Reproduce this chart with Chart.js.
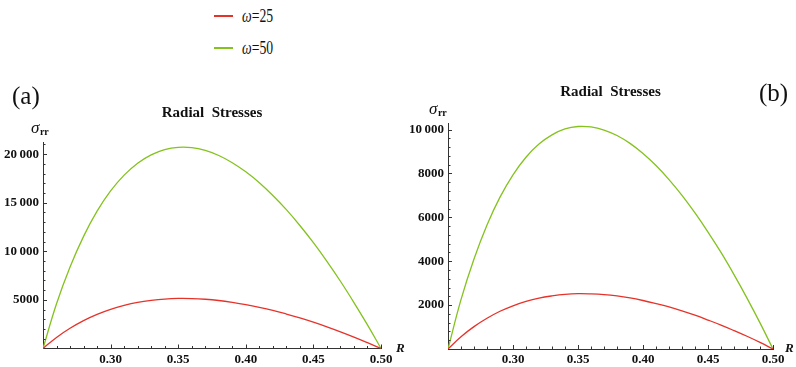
<!DOCTYPE html>
<html>
<head>
<meta charset="utf-8">
<script src="https://cdn.jsdelivr.net/npm/chart.js@4.4.0/dist/chart.umd.min.js"></script>
<style>
  html, body { margin: 0; padding: 0; background: #fff; }
  body { width: 796px; height: 367px; position: relative; overflow: hidden; font-family: "Liberation Serif", serif; }
  canvas { position: absolute; top: 0; }
  #chartA { left: 0; }
  #chartB { left: 400px; }
  .leg { position: absolute; left: 214px; height: 22px; width: 90px; }
  .leg .swatch { position: absolute; left: 0; top: 10px; width: 19px; height: 2px; }
  .leg .txt { position: absolute; left: 28px; top: 0; font-family: "Liberation Serif", serif; font-size: 19px; line-height: 22px; color: #111;
              transform: scaleX(0.72); transform-origin: left center; white-space: nowrap; }
</style>
</head>
<body>
<div class="leg" style="top:5px"><span class="swatch" style="background:#e6332a"></span><span class="txt"><i>ω</i>=25</span></div>
<div class="leg" style="top:37px"><span class="swatch" style="background:#84c21e"></span><span class="txt"><i>ω</i>=50</span></div>
<canvas id="chartA" width="412" height="367"></canvas>
<canvas id="chartB" width="396" height="367"></canvas>
<script>
// radius R (0.25 .. 0.50)
const radius = [0.25, 0.26, 0.27, 0.28, 0.29, 0.30, 0.31, 0.32, 0.33, 0.34, 0.35, 0.36, 0.37,
                0.38, 0.39, 0.40, 0.41, 0.42, 0.43, 0.44, 0.45, 0.46, 0.47, 0.48, 0.49, 0.50];

// (a) radial stress
const stressA25 = [0, 1140, 2080, 2870, 3510, 4030, 4430, 4740, 4950, 5090, 5150, 5140, 5070,
                   4940, 4750, 4520, 4240, 3920, 3550, 3150, 2710, 2230, 1720, 1180, 600, 0];
const stressA50 = [0, 4600, 8380, 11540, 14130, 16210, 17840, 19070, 19930, 20470, 20700, 20670, 20380,
                   19860, 19120, 18180, 17060, 15750, 14290, 12660, 10890, 8970, 6920, 4730, 2430, 0];

// (b) radial stress
const stressB25 = [0, 560, 1020, 1400, 1720, 1970, 2170, 2320, 2420, 2490, 2520, 2510, 2480,
                   2420, 2330, 2210, 2070, 1920, 1740, 1540, 1320, 1090, 840, 580, 300, 0];
const stressB50 = [0, 2250, 4100, 5650, 6920, 7940, 8740, 9340, 9760, 10030, 10140, 10120, 9980,
                   9730, 9370, 8910, 8360, 7720, 7000, 6200, 5330, 4400, 3390, 2320, 1190, 0];

const xTicks = [0.30, 0.35, 0.40, 0.45, 0.50];
const yTicksA = [5000, 10000, 15000, 20000];
const yTicksB = [2000, 4000, 6000, 8000, 10000];
const seriesNames = ['ω=25', 'ω=50'];
const colors = ['#e6332a', '#84c21e'];

const serif = '"Liberation Serif", "Times New Roman", serif';

function fmt(v) {
    if (v >= 10000) return String(v).replace(/\B(?=(\d{3})+(?!\d))/g, '\u2009');
    return String(v);
}

// axes ticks (drawn inward, with minor ticks), title, axis labels, panel tag
const decor = {
    id: 'decor',
    afterDraw(chart, args, o) {
        const ctx = chart.ctx;
        const xs = chart.scales.x, ys = chart.scales.y, area = chart.chartArea;
        ctx.save();
        ctx.strokeStyle = '#333';
        ctx.lineWidth = 1;

        const nx = Math.round((xs.max - xs.min) / o.xMinor);
        for (let k = 1; k <= nx; k++) {
            const px = Math.round(xs.getPixelForValue(xs.min + k * o.xMinor)) + 0.5;
            const len = k % 5 === 0 ? 4 : 2.5;
            ctx.beginPath();
            ctx.moveTo(px, area.bottom);
            ctx.lineTo(px, area.bottom - len);
            ctx.stroke();
        }
        for (let k = 1; k * o.yMinor <= ys.max; k++) {
            const py = Math.round(ys.getPixelForValue(k * o.yMinor)) + 0.5;
            const len = k % 5 === 0 ? 4 : 2.5;
            ctx.beginPath();
            ctx.moveTo(area.left, py);
            ctx.lineTo(area.left + len, py);
            ctx.stroke();
        }

        ctx.fillStyle = '#111';
        ctx.textBaseline = 'middle';

        // title
        ctx.font = 'bold 15px ' + serif;
        ctx.textAlign = 'center';
        ctx.fillText('Radial  Stresses', (area.left + area.right) / 2, o.titleY);

        // sigma_rr
        ctx.textAlign = 'left';
        ctx.font = 'italic 17px ' + serif;
        ctx.fillText('σ', o.sigmaX, o.sigmaY);
        const w = ctx.measureText('σ').width;
        ctx.font = 'bold 10px ' + serif;
        ctx.fillText('rr', o.sigmaX + w + 0.5, o.sigmaY + 3);

        // R
        ctx.font = 'italic bold 13px ' + serif;
        ctx.fillText('R', o.rX, area.bottom);

        // (a) / (b)
        ctx.font = '25px ' + serif;
        ctx.fillText(o.tag, o.tagX, o.tagY);
        ctx.restore();
    }
};

function makeChart(id, s25, s50, cfg) {
    const ctx = document.getElementById(id).getContext('2d');
    return new Chart(ctx, {
        type: 'line',
        data: {
            datasets: [s25, s50].map((arr, i) => ({
                label: seriesNames[i],
                data: radius.map((r, j) => ({ x: r, y: arr[j] })),
                borderColor: colors[i],
                borderWidth: 1.3,
                pointRadius: 0,
                fill: false,
                tension: 0.4
            }))
        },
        options: {
            responsive: false,
            animation: false,
            devicePixelRatio: 1,
            layout: { padding: { top: cfg.top, right: cfg.right, left: 0, bottom: 0 } },
            scales: {
                x: {
                    type: 'linear',
                    min: 0.25,
                    max: 0.50,
                    afterFit: s => { s.height = cfg.xAxisHeight; },
                    afterBuildTicks: s => { s.ticks = xTicks.map(v => ({ value: v })); },
                    border: { display: true, color: '#333', width: 1 },
                    grid: { display: true, drawOnChartArea: false, drawTicks: false },
                    ticks: {
                        autoSkip: false,
                        maxRotation: 0,
                        padding: 3,
                        color: '#111',
                        font: { family: serif, size: 13, weight: 'bold' },
                        callback: v => v.toFixed(2)
                    }
                },
                y: {
                    type: 'linear',
                    min: 0,
                    max: cfg.yMax,
                    afterFit: s => { s.width = cfg.yAxisWidth; },
                    afterBuildTicks: s => { s.ticks = cfg.yTicks.map(v => ({ value: v })); },
                    border: { display: true, color: '#333', width: 1 },
                    grid: { display: true, drawOnChartArea: false, drawTicks: false },
                    ticks: {
                        autoSkip: false,
                        padding: 4,
                        color: '#111',
                        font: { family: serif, size: 13, weight: 'bold' },
                        callback: v => fmt(v)
                    }
                }
            },
            plugins: {
                legend: { display: false },
                tooltip: { enabled: false },
                title: { display: false },
                decor: cfg.decor
            }
        },
        plugins: [decor]
    });
}

makeChart('chartA', stressA25, stressA50, {
    top: 142, right: 31, yAxisWidth: 43, xAxisHeight: 18.5, yMax: 21250, yTicks: yTicksA,
    decor: { xMinor: 0.01, yMinor: 1000, titleY: 113, sigmaX: 31, sigmaY: 129, rX: 396, tag: '(a)', tagX: 12, tagY: 97 }
});

makeChart('chartB', stressB25, stressB50, {
    top: 123, right: 23, yAxisWidth: 48, xAxisHeight: 18, yMax: 10300, yTicks: yTicksB,
    decor: { xMinor: 0.01, yMinor: 400, titleY: 92, sigmaX: 29, sigmaY: 110, rX: 385, tag: '(b)', tagX: 359, tagY: 94 }
});
</script>
</body>
</html>
